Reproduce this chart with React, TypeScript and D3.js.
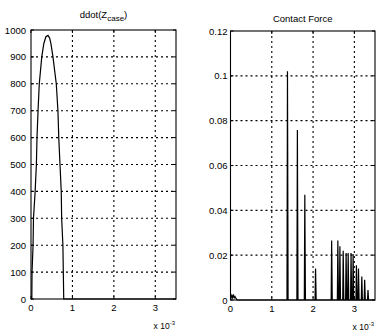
import React from "react";
import * as d3 from "d3";

// Left panel: ddot(Z_case) vs time (x 1e-3 s)
const leftX = [0, 0.01, 0.02, 0.025, 0.05, 0.06, 0.1, 0.13, 0.145, 0.17, 0.2, 0.26, 0.31, 0.36, 0.41, 0.45, 0.48, 0.53, 0.61, 0.65, 0.67, 0.7, 0.73, 0.74, 0.77, 0.78, 0.79, 3.5];
const leftY = [0, 0, 0, 100, 200, 300, 400, 500, 600, 700, 800, 900, 950, 975, 980, 970, 950, 900, 800, 700, 600, 500, 400, 300, 200, 100, 0, 0];
const leftYTicks = [0, 100, 200, 300, 400, 500, 600, 700, 800, 900, 1000];

// Right panel: Contact force spikes
const baseX = [0, 0.03, 0.05, 0.07, 0.09, 0.11, 0.13, 0.16];
const baseY = [0, 0.002, 0.001, 0.0025, 0.001, 0.0015, 0.0008, 0];
const spikeX = [1.38, 1.62, 1.8, 2.06, 2.45, 2.6, 2.65, 2.73, 2.8, 2.85, 2.92, 2.97, 3.05, 3.1, 3.18, 3.25, 3.33];
const spikeH = [0.102, 0.0758, 0.047, 0.014, 0.0265, 0.0265, 0.024, 0.022, 0.021, 0.021, 0.021, 0.0205, 0.0155, 0.014, 0.0105, 0.009, 0.0045];
const rightYTicks = [0, 0.02, 0.04, 0.06, 0.08, 0.1, 0.12];
const rightYLabels = ["0", "0.02", "0.04", "0.06", "0.08", "0.1", "0.12"];

const xTicks = [0, 1, 2, 3];
const xDomain: [number, number] = [0, 3.5];

const FONT = "'Liberation Sans', Arial, Helvetica, sans-serif";

type PanelProps = {
  x0: number; x1: number; y0: number; y1: number;
  yMax: number; yTicks: number[]; yLabels: string[];
  pts: [number, number][]; labelGap: number;
  title: React.ReactNode; titleY: number;
};

function Panel({ x0, x1, y0, y1, yMax, yTicks, yLabels, pts, labelGap, title, titleY }: PanelProps) {
  const xs = d3.scaleLinear().domain(xDomain).range([x0, x1]);
  const ys = d3.scaleLinear().domain([0, yMax]).range([y1, y0]);
  const line = d3.line<[number, number]>().x(d => xs(d[0])).y(d => ys(d[1]));
  const grid = { stroke: "#000", strokeWidth: 1.1, strokeDasharray: "2,3" };
  return (
    <g fontFamily={FONT} fill="#000">
      {xTicks.slice(1).map(t => (
        <line key={"gx" + t} x1={xs(t)} x2={xs(t)} y1={y0} y2={y1} {...grid} />
      ))}
      {yTicks.slice(1, -1).map(t => (
        <line key={"gy" + t} x1={x0} x2={x1} y1={ys(t)} y2={ys(t)} {...grid} />
      ))}
      {xTicks.map(t => (
        <g key={"tx" + t}>
          <line x1={xs(t)} x2={xs(t)} y1={y1} y2={y1 - 3} stroke="#000" />
          <line x1={xs(t)} x2={xs(t)} y1={y0} y2={y0 + 3} stroke="#000" />
          <text x={xs(t)} y={y1 + 12} fontSize={9.5} textAnchor="middle">{t}</text>
        </g>
      ))}
      {yTicks.map((t, i) => (
        <g key={"ty" + t}>
          <line x1={x0} x2={x0 + 3} y1={ys(t)} y2={ys(t)} stroke="#000" />
          <line x1={x1} x2={x1 - 3} y1={ys(t)} y2={ys(t)} stroke="#000" />
          <text x={x0 - labelGap} y={ys(t) + 3.5} fontSize={9.5} textAnchor="end">{yLabels[i]}</text>
        </g>
      ))}
      <path d={line(pts) || ""} fill="none" stroke="#000" strokeWidth={1.2} />
      <rect x={x0} y={y0} width={x1 - x0} height={y1 - y0} fill="none" stroke="#000" strokeWidth={1.1} />
      <text x={x1 - 1} y={y1 + 30} fontSize={8.5} textAnchor="end">
        x 10<tspan fontSize={6} dy={-4}>-3</tspan>
      </text>
      <text x={(x0 + x1) / 2} y={titleY} fontSize={9.5} textAnchor="middle">{title}</text>
    </g>
  );
}

export default function App() {
  const leftPts: [number, number][] = leftX.map((x, i) => [x, leftY[i]]);
  const rightPts: [number, number][] = baseX.map((x, i) => [x, baseY[i]] as [number, number]);
  spikeX.forEach((x, i) => {
    rightPts.push([x - 0.012, 0], [x, spikeH[i]], [x + 0.015, 0]);
  });
  rightPts.push([3.5, 0]);
  return (
    <svg width={376} height={334} style={{ position: "absolute", left: 0, top: 0, background: "#fff" }}>
      <rect width={376} height={334} fill="#fff" />
      <Panel x0={31} x1={176} y0={30} y1={299} yMax={1000} yTicks={leftYTicks}
        yLabels={leftYTicks.map(String)} pts={leftPts} labelGap={5}
        title={<>ddot(Z<tspan fontSize={8} dy={3}>case</tspan><tspan dy={-3}>)</tspan></>} titleY={18} />
      <Panel x0={230.5} x1={375} y0={31} y1={300} yMax={0.12} yTicks={rightYTicks}
        yLabels={rightYLabels} pts={rightPts} labelGap={3}
        title="Contact Force" titleY={22} />
    </svg>
  );
}
